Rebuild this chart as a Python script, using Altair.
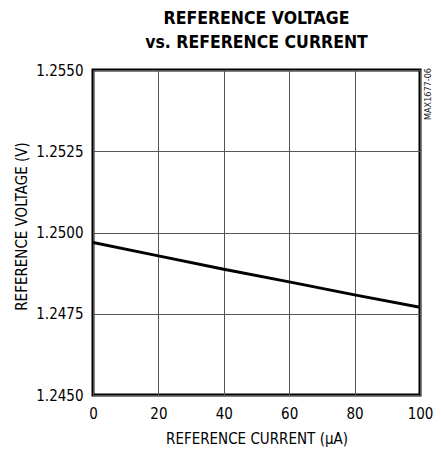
import altair as alt
import pandas as pd

# Reference voltage measured against reference current
current_ua = [0, 20, 40, 60, 80, 100]
voltage_v = [1.24969, 1.24928, 1.24887, 1.24848, 1.24808, 1.24770]

x_ticks = [0, 20, 40, 60, 80, 100]
y_ticks = [1.2450, 1.2475, 1.2500, 1.2525, 1.2550]

df = pd.DataFrame({"current": current_ua, "voltage": voltage_v})

FONT = "'Liberation Sans Narrow', 'DejaVu Sans Condensed', 'Arial Narrow', sans-serif"

line = alt.Chart(df).mark_line(color="black", strokeWidth=3, clip=True).encode(
    x=alt.X(
        "current:Q",
        scale=alt.Scale(domain=[0, 100], nice=False),
        axis=alt.Axis(
            values=x_ticks,
            title="REFERENCE CURRENT (μA)",
            titlePadding=10,
            labelPadding=11,
            labelFlush=False,
        ),
    ),
    y=alt.Y(
        "voltage:Q",
        scale=alt.Scale(domain=[1.2450, 1.2550], nice=False, zero=False),
        axis=alt.Axis(
            values=y_ticks,
            format=".4f",
            title="REFERENCE VOLTAGE (V)",
            titlePadding=6,
            titleY=156,
            labelPadding=10,
            labelFlush=False,
        ),
    ),
)

# small figure code along the right edge, reading upward
code = alt.Chart(pd.DataFrame({"t": ["MAX1677-06"]})).mark_text(
    angle=270, align="right", baseline="middle", fontSize=9, font=FONT, color="#222"
).encode(x=alt.value(335), y=alt.value(-2), text="t:N")

chart = (
    alt.layer(line, code)
    .properties(
        width=327,
        height=325,
        autosize=alt.AutoSizeParams(type="none"),
        padding={"left": 93, "top": 70, "right": 21, "bottom": 60},
        title=alt.TitleParams(
            text=["REFERENCE VOLTAGE", "vs. REFERENCE CURRENT"],
            font=FONT,
            fontSize=17.5,
            fontWeight="bold",
            color="black",
            anchor="middle",
            lineHeight=24,
            offset=12,
        ),
    )
    .configure_view(stroke="black", strokeWidth=3)
    .configure_axis(
        grid=True,
        gridColor="#555",
        gridWidth=1,
        ticks=False,
        domain=False,
        labelFont=FONT,
        labelFontSize=15,
        labelColor="black",
        titleFont=FONT,
        titleFontSize=15,
        titleFontWeight="normal",
        titleColor="black",
    )
)

chart.save("out.html", embed_options={"renderer": "svg", "actions": False})
